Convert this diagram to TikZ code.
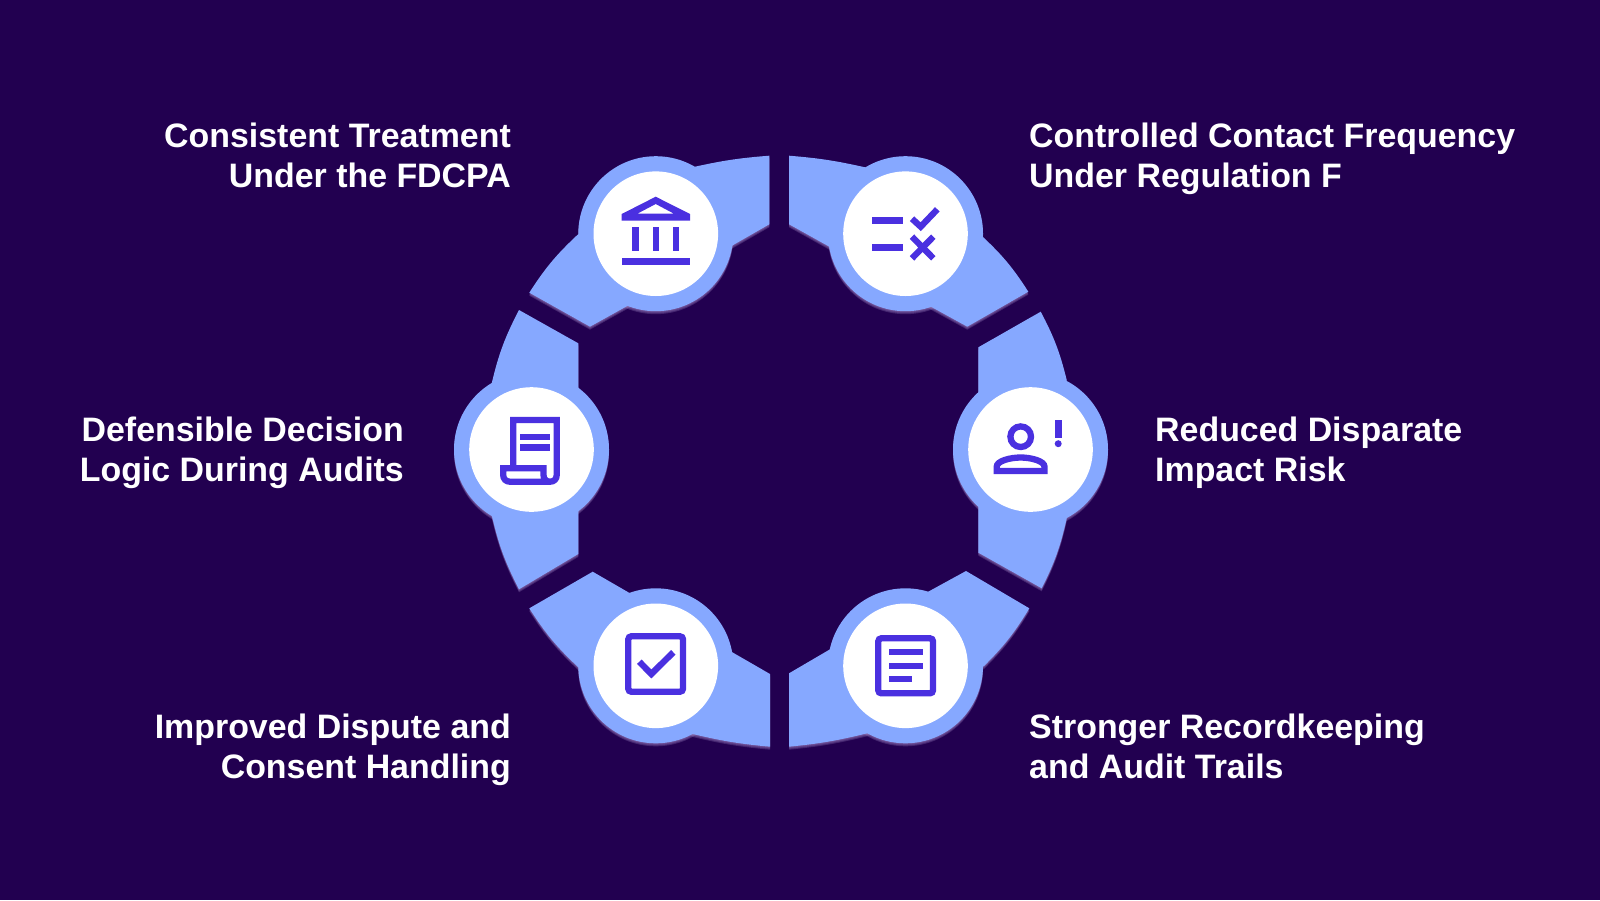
\documentclass[tikz,border=0pt]{standalone}
\usepackage{fontspec}
\setmainfont{Liberation Sans}
\usetikzlibrary{shapes.geometric}
\definecolor{bgc}{HTML}{220050}
\definecolor{segc}{HTML}{86A8FF}
\definecolor{icoc}{HTML}{4A30E0}
\definecolor{shc}{HTML}{9A80C0}
\tikzset{
 segfill/.style={fill=segc},
 glow/.style={fill=shc,opacity=.28},
 whitedisc/.style={fill=white},
 icoline/.style={draw=icoc,line width=6.3pt,line join=miter,fill=none},
 icofill/.style={fill=icoc},
 lab/.style={text=white,font=\fontsize{33.9}{40}\selectfont\bfseries,inner sep=0pt,text depth=0pt},
}
\newcommand{\segshape}[2]{%
 \foreach \o in {3,2,1}{%
  \fill[glow,yshift=-\o pt] #1;
  \fill[glow,yshift=-\o pt] (#2) circle (77.5);
 }%
 \fill[segfill] #1;
 \fill[segfill] (#2) circle (77.5);
 \fill[whitedisc] (#2) circle (62.3);
}
\begin{document}
\begin{tikzpicture}[x=1pt,y=-1pt]
\useasboundingbox (0,0) rectangle (1600,900);
\fill[bgc] (0,0) rectangle (1600,900);
% segments
\segshape{(769.3,155.7) -- (769.3,224.3) -- (733.3,245) -- (626,306.7) -- (590,326.7) -- (529.3,292.7) to[bend left=7] (577.3,235) -- (695,166.7) to[bend left=4] cycle}{655.8,233.7}
\segshape{(789,155.7) to[bend left=4] (865,167.3) -- (983.3,237.3) to[bend left=7] (1028.3,291.7) -- (967.3,326.7) -- (932.7,307.7) -- (829.3,246.7) -- (789,224.3) -- cycle}{905.5,233.7}
\segshape{(491.7,383.3) to[bend left=7] (519,310) -- (578.3,343.3) -- (578.3,554) -- (519,589.3) to[bend left=7] (491.7,515) -- cycle}{531.5,449.5}
\segshape{(1040.7,311.7) to[bend left=7] (1066.7,380) -- (1066.7,518.3) to[bend left=7] (1041.7,588.3) -- (978.3,552.7) -- (978.3,347.3) -- cycle}{1030.5,449.5}
\segshape{(770,674) -- (770,746.7) to[bend left=4] (692.7,734) -- (578.3,667.3) to[bend left=7] (529.3,608.3) -- (592.7,571.7) -- (627.3,591.7) -- cycle}{655.8,665.8}
\segshape{(789,673.3) -- (830,649.3) -- (930,590.7) -- (966,571) -- (1029.3,608.3) to[bend left=7] (984,666) -- (867.3,733.3) to[bend left=4] (789,746.7) -- cycle}{905.5,665.8}
% bank icon
\fill[icofill,even odd rule] (655.7,196.7) -- (690,214) -- (690,220.7) -- (621.7,220.7) -- (621.7,214) -- cycle (655.7,204) -- (637.3,213.7) -- (674,213.7) -- cycle;
\fill[icofill] (632.3,227.3) rectangle (638.7,251);
\fill[icofill] (652.7,227.3) rectangle (659,251);
\fill[icofill] (673,227.3) rectangle (679.3,251);
\fill[icofill] (621.7,258) rectangle (690,264.7);
% checklist icon
\fill[icofill] (871.7,217.3) rectangle (902.7,224);
\fill[icofill] (871.7,244) rectangle (902.7,251);
\draw[icoline] (912,218.7) -- (920.7,226.7) -- (937.3,209.3);
\draw[icoline] (912,236.7) -- (933.3,258.3);
\draw[icoline] (933.3,236.7) -- (912,258.3);
% scroll icon
\draw[icoline] (513.2,465) -- (513.2,420) -- (556.7,420) -- (556.7,475) .. controls (556.7,479) and (554,481.7) .. (550,481.7) -- (510,481.7) .. controls (506,481.7) and (503.2,479) .. (503.2,475) -- (503.2,468.2) -- (543.5,468.2) -- (543.5,475) .. controls (543.5,479) and (546,481.7) .. (550,481.7);
\fill[icofill] (520,434) rectangle (550,440.3);
\fill[icofill] (520,444.3) rectangle (550,450.7);
% person icon
\draw[icoline] (1020.7,436.7) circle (10.3);
\draw[icoline] (996.7,471) -- (996.7,466.7) .. controls (996.7,461) and (1010,457.5) .. (1020.7,457.5) .. controls (1031,457.5) and (1044.5,461) .. (1044.5,466.7) -- (1044.5,471) -- cycle;
\fill[icofill] (1054.7,420) rectangle (1061.7,437.7);
\fill[icofill] (1058.2,443.7) circle (3.5);
% checkbox icon
\draw[icoline,rounded corners=3pt] (628.3,636.3) rectangle (683,691.7);
\draw[icoline] (639.3,661.7) -- (651.3,674) -- (673.3,652.3);
% document icon
\draw[icoline,rounded corners=3pt] (878.3,638.3) rectangle (933,693.3);
\fill[icofill] (889,649) rectangle (922.7,655.3);
\fill[icofill] (889,662.7) rectangle (922.7,669);
\fill[icofill] (889,676) rectangle (912.3,682.3);
% labels
\node[lab,align=right,anchor=base east] (t1) at (511,187) {Consistent Treatment\\Under the FDCPA};
\node[lab,align=left,anchor=base west] (t2) at (1029,187) {Controlled Contact Frequency\\Under Regulation F};
\node[lab,align=right,anchor=base east] (t3) at (404,481) {Defensible Decision\\Logic During Audits};
\node[lab,align=left,anchor=base west] (t4) at (1155,481) {Reduced Disparate\\Impact Risk};
\node[lab,align=right,anchor=base east] (t5) at (511,778) {Improved Dispute and\\Consent Handling};
\node[lab,align=left,anchor=base west] (t6) at (1029,778) {Stronger Recordkeeping\\and Audit Trails};
\end{tikzpicture}
\end{document}
